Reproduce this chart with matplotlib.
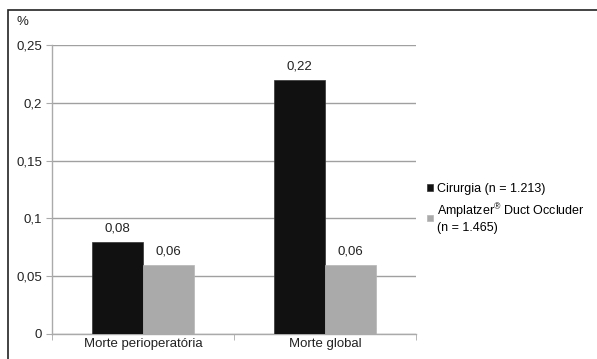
import numpy as np
import matplotlib.pyplot as plt
from matplotlib.patches import Rectangle

plt.rcParams['font.family'] = ['Liberation Sans', 'DejaVu Sans']
plt.rcParams['mathtext.fontset'] = 'custom'
plt.rcParams['mathtext.rm'] = 'Liberation Sans'

categories = ["Morte perioperatória", "Morte global"]
cirurgia = [0.08, 0.22]
amplatzer = [0.06, 0.06]
series_names = ["Cirurgia (n = 1.213)", "Amplatzer$^{\\mathrm{®}}$ Duct Occluder\n(n = 1.465)"]
yticks = [0, 0.05, 0.1, 0.15, 0.2, 0.25]
ytick_labels = ["0", "0,05", "0,1", "0,15", "0,2", "0,25"]

fs = 9.5
txt = "#222222"

fig = plt.figure(figsize=(5.97, 3.59), dpi=100)
W, H = 597, 359
ax = fig.add_axes([52 / W, 1 - 334 / H, (416 - 52) / W, (334 - 45) / H])

# outer frame
fig.patches.append(Rectangle((8 / W, -0.05), 1.1, 1 - 10 / H + 0.05, transform=fig.transFigure,
                             fill=False, edgecolor="#222222", linewidth=1.2))

x = np.arange(len(categories))
w = 0.28
b1 = ax.bar(x - w / 2, cirurgia, w, color="#111111", edgecolor="#333333", linewidth=0.5, zorder=3)
b2 = ax.bar(x + w / 2, amplatzer, w, color="#aaaaaa", edgecolor="#b5b5b5", linewidth=0.5, zorder=3)

for bars, vals in [(b1, cirurgia), (b2, amplatzer)]:
    for r, v in zip(bars, vals):
        ax.text(r.get_x() + r.get_width() / 2, v + 0.006, f"{v:.2f}".replace(".", ","),
                ha="center", va="bottom", fontsize=fs, color=txt)

ax.set_xlim(-0.5, 1.5)
ax.set_ylim(0, 0.25)
ax.set_yticks(yticks)
ax.set_yticklabels(ytick_labels, fontsize=fs, color=txt)
ax.set_xticks(x)
ax.set_xticklabels(categories, fontsize=fs, color=txt)
ax.set_xticks([-0.5, 0.5, 1.5], minor=True)
ax.tick_params(axis="x", which="major", length=0, pad=3)
ax.tick_params(axis="x", which="minor", length=4, color="#aaaaaa", direction="out")
ax.tick_params(axis="y", length=4, color="#aaaaaa", pad=3)
ax.grid(axis="y", color="#a0a0a0", linewidth=1.0, zorder=0)
for s in ["top", "right"]:
    ax.spines[s].set_visible(False)
for s in ["left", "bottom"]:
    ax.spines[s].set_color("#aaaaaa")
    ax.spines[s].set_linewidth(1.0)

fig.text(22 / W, 1 - 22 / H, "%", fontsize=fs, color=txt, ha="center", va="center")

leg = fig.legend([b1, b2], series_names, loc="upper left", bbox_to_anchor=(416 / W, 1 - 172 / H),
                 frameon=False, fontsize=9, handlelength=0.45, handleheight=0.45,
                 handletextpad=0.3, labelspacing=0.5)

fig.savefig("out.png", dpi=100)
